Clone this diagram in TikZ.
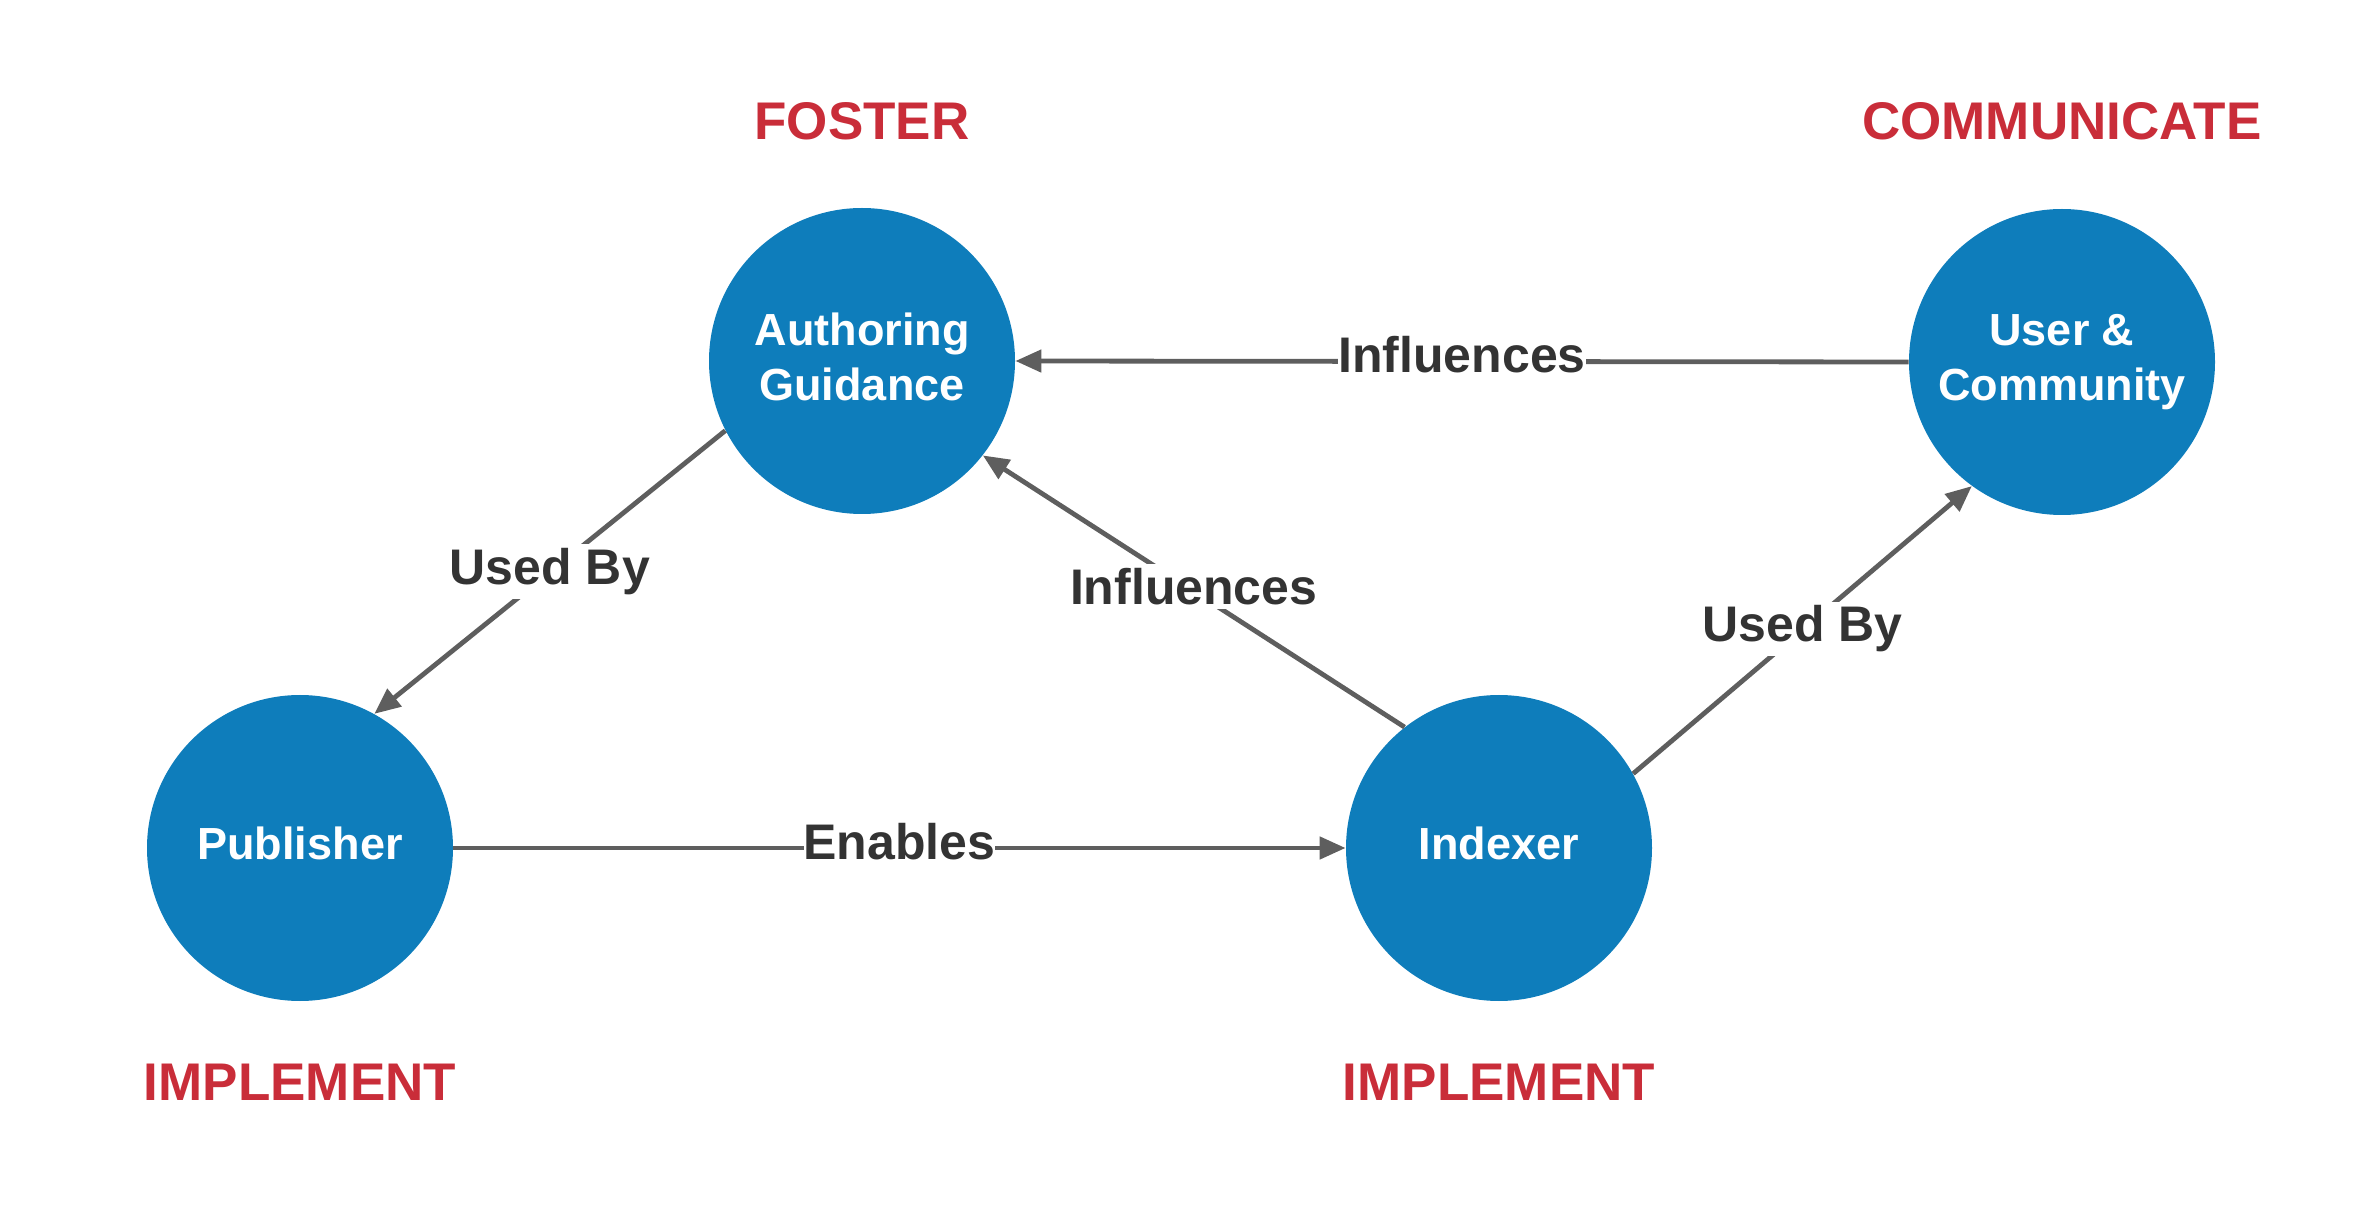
\documentclass[tikz,border=0pt]{standalone}
\usepackage{fontspec}
\setmainfont{Liberation Sans}
\usetikzlibrary{arrows.meta}
\definecolor{nodeblue}{HTML}{0E7DBB}
\definecolor{headred}{HTML}{C92D39}
\definecolor{linkgray}{HTML}{5E5E5E}
\definecolor{labeltext}{HTML}{333333}
\begin{document}
\begin{tikzpicture}[x=0.5pt,y=-0.5pt,
  role/.style={circle,fill=nodeblue,minimum size=153pt,inner sep=0pt},
  rolebody/.style={text=white,font=\fontsize{22.5}{27.5}\selectfont\bfseries,
    align=center,inner sep=0pt},
  phase/.style={text=headred,font=\fontsize{26.5}{30}\selectfont\bfseries},
  link/.style={draw=linkgray,line width=2.4pt,-{Triangle[length=13pt,width=11pt]}},
  rel/.style={fill=white,text=labeltext,inner xsep=0pt,inner ysep=2pt,
    font=\fontsize{25}{28}\selectfont\bfseries}]
  \useasboundingbox (0,0) rectangle (2363,1224);

  % roles: the disc, then its caption
  \node[role] (auth) at (862,361) {};
  \node[rolebody] (authtxt) at ([yshift=2.25pt]auth.center) {Authoring\\Guidance};
  \node[role] (user) at (2062,362) {};
  \node[rolebody] (usertxt) at (user.center) {User \&\\Community};
  \node[role] (pub) at (300,848) {};
  \node[rolebody] (pubtxt) at ([yshift=2.25pt]pub.center) {Publisher};
  \node[role] (idx) at (1499,848) {};
  \node[rolebody] (idxtxt) at ([yshift=2.25pt]idx.center) {Indexer};

  % phase headings
  \node[phase] (h1) at (862,121) {FOSTER};
  \node[phase] (h2) at (2062,121) {COMMUNICATE};
  \node[phase] (h3) at (300,1082) {IMPLEMENT};
  \node[phase] (h4) at (1499,1082) {IMPLEMENT};

  % relations
  \draw[link] (user.west) -- node[rel,yshift=3.5pt] {Influences} (auth.east);
  \draw[link] (auth.207) -- node[rel,yshift=0.5pt] {Used By} (pub.61.6);
  \draw[link] (idx.128) -- node[rel,yshift=2.5pt] {Influences} (auth.-38.7);
  \draw[link] (idx.29.7) -- node[rel,yshift=0.5pt] {Used By} (user.234.8);
  \draw[link] (pub.east) -- node[rel,yshift=3pt] {Enables} (idx.west);
\end{tikzpicture}
\end{document}
